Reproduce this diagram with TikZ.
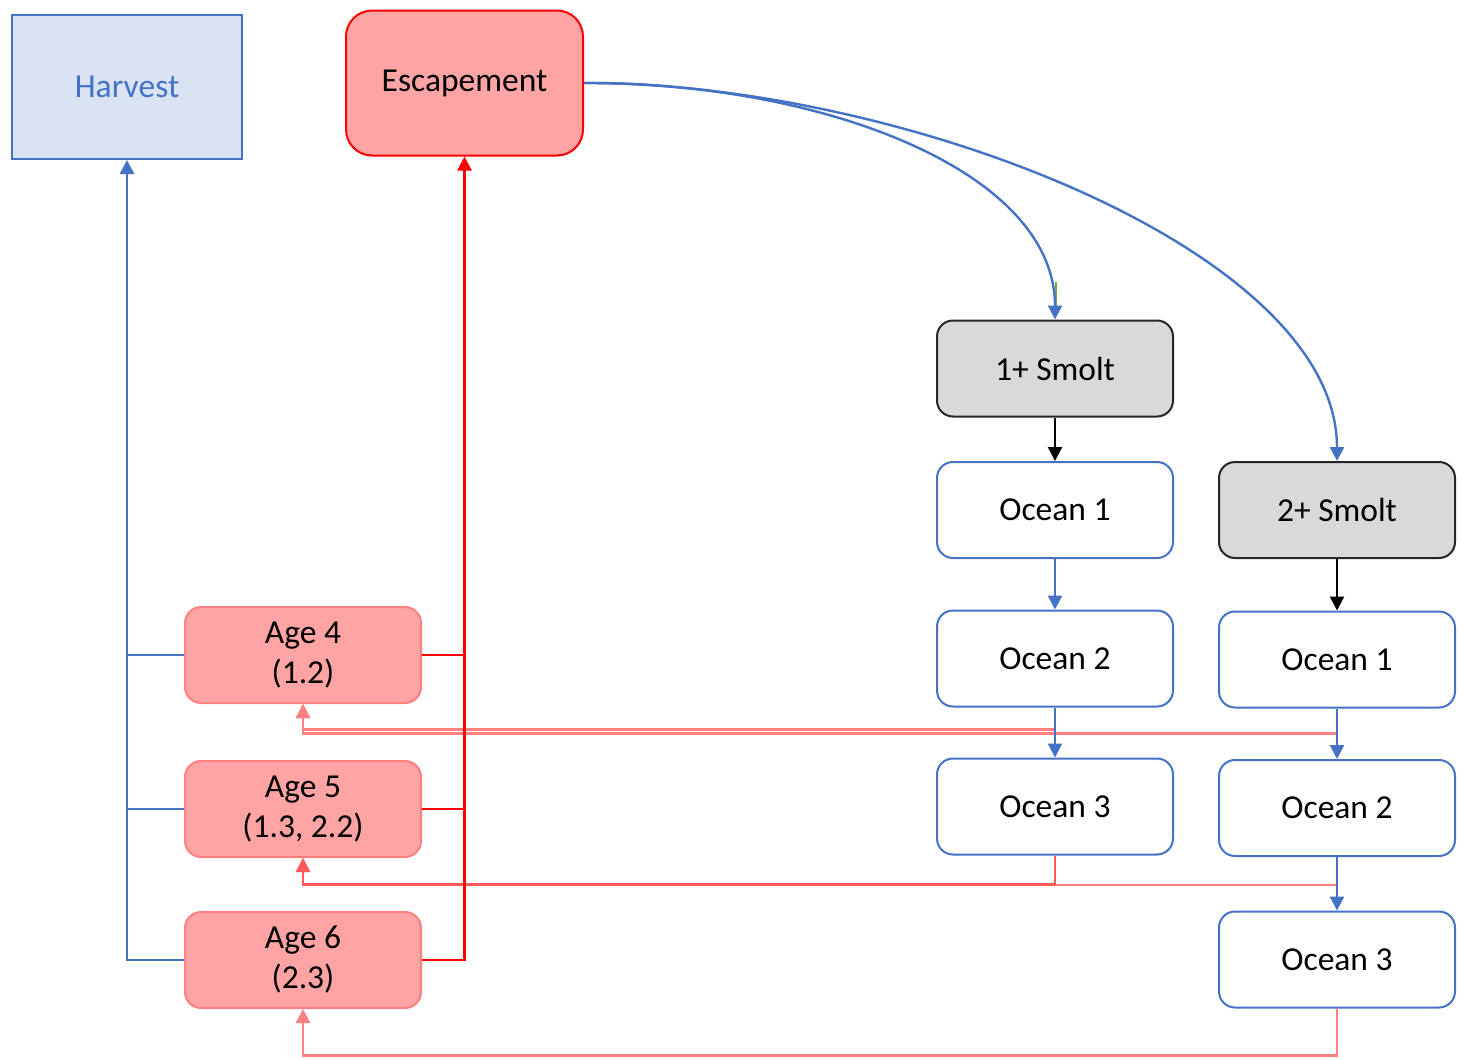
\documentclass[tikz,border=0pt]{standalone}
\usepackage{fontspec}
\setmainfont{Carlito}
\usetikzlibrary{arrows.meta}
\definecolor{officeblue}{HTML}{4472C4}
\definecolor{paleblue}{HTML}{DAE3F3}
\definecolor{salmonfill}{HTML}{FFA4A4}
\definecolor{salmonedge}{HTML}{FF8080}
\definecolor{salmonline}{HTML}{FF8080}
\definecolor{deepsalmon}{HTML}{FF5A5A}
\definecolor{smoltgrey}{HTML}{D9D9D9}
\definecolor{leafgreen}{HTML}{70AD47}
\tikzset{
  box/.style={rounded corners=16pt, line width=2pt, minimum width=236pt,
    minimum height=96pt, inner sep=0pt, align=center,
    font=\fontsize{33.5}{40}\selectfont},
  oceanbox/.style={box, draw=officeblue, fill=white},
  smoltbox/.style={box, draw=black!85, fill=smoltgrey},
  agebox/.style={box, draw=salmonedge, fill=salmonfill},
  tip/.style={-{Triangle[width=14pt,length=14pt]}},
  blueline/.style={draw=officeblue, line width=2.4pt},
  redline/.style={draw=red, line width=2.4pt},
  returnline/.style={draw=salmonline, line width=2.4pt},
}
\begin{document}
\begin{tikzpicture}[x=1pt,y=-1pt]
\useasboundingbox (0,0) rectangle (1460,1060);

% top boxes
\node[draw=officeblue, fill=paleblue, line width=2pt, minimum width=230pt,
  minimum height=144pt, inner sep=0pt, text=officeblue,
  font=\fontsize{33.5}{40}\selectfont] (harvest) at (127,87) {Harvest};
\node[box, draw=red, fill=salmonfill, rounded corners=26pt,
  minimum width=237pt, minimum height=145pt] (escape) at (464.5,83) {Escapement};

% 1+ smolt column
\node[smoltbox] (smoltA) at (1055,368.5) {1+ Smolt};
\node[oceanbox] (oceanA1) at (1055,510) {Ocean 1};
\node[oceanbox] (oceanA2) at (1055,658.5) {Ocean 2};
\node[oceanbox] (oceanA3) at (1055,806.5) {Ocean 3};

% 2+ smolt column
\node[smoltbox] (smoltB) at (1337,510) {2+ Smolt};
\node[oceanbox] (oceanB1) at (1337,659.5) {Ocean 1};
\node[oceanbox] (oceanB2) at (1337,808) {Ocean 2};
\node[oceanbox] (oceanB3) at (1337,959.5) {Ocean 3};

% returning adults by age
\node[agebox] (age4) at (303,655) {Age 4\\(1.2)};
\node[agebox] (age5) at (303,809) {Age 5\\(1.3, 2.2)};
\node[agebox] (age6) at (303,960) {Age 6\\(2.3)};

% returns from the ocean to each age class
\draw[returnline, tip] (oceanA2.south) -- ++(0,22) -| (age4.south);
\draw[returnline, tip] (oceanB1.south) -- ++(0,25) -| (age4.south);
\draw[returnline, tip] (oceanB2.south) -- ++(0,28) -| (age5.south);
\draw[returnline, draw=deepsalmon, tip] (oceanA3.south) -- ++(0,29) -| (age5.south);
\draw[returnline, tip] (oceanB3.south) -- ++(0,47) -| (age6.south);

% harvest and escapement trunks
\draw[blueline, tip] (age6.west) -| (harvest.south);
\draw[blueline] (age4.west) -- (age4.west -| harvest.south);
\draw[blueline] (age5.west) -- (age5.west -| harvest.south);
\draw[redline, tip] (age6.east) -| (escape.south);
\draw[redline] (age4.east) -- (age4.east -| escape.south);
\draw[redline] (age5.east) -- (age5.east -| escape.south);

% spawning to smolts
\coordinate (greentop) at (1056,282);
\draw[draw=leafgreen, line width=1.6pt] (greentop) -- ++(0,24);
\draw[blueline, tip] (escape.east) .. controls (820,82) and (1055,170) .. (smoltA.north);
\draw[blueline, tip] (escape.east) .. controls (900,82) and (1337,250) .. (smoltB.north);

% ocean progression
\draw[line width=2.2pt, draw=black, tip] (smoltA.south) -- (oceanA1.north);
\draw[line width=2.2pt, draw=black, tip] (smoltB.south) -- (oceanB1.north);
\draw[blueline, tip] (oceanA1.south) -- (oceanA2.north);
\draw[blueline, tip] (oceanA2.south) -- (oceanA3.north);
\draw[blueline, tip] (oceanB1.south) -- (oceanB2.north);
\draw[blueline, tip] (oceanB2.south) -- (oceanB3.north);
\end{tikzpicture}
\end{document}
